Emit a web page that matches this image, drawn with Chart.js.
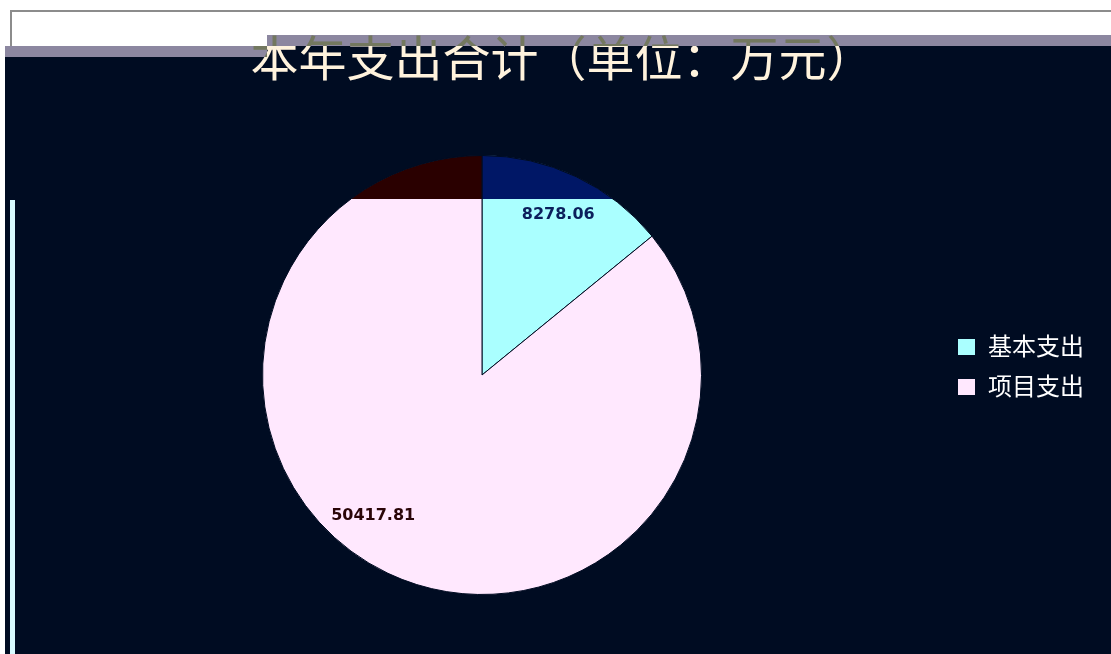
<!DOCTYPE html>
<html>
<head>
<meta charset="utf-8">
<script src="https://cdn.jsdelivr.net/npm/chart.js@4/dist/chart.umd.min.js"></script>
<style>
    html, body { margin: 0; padding: 0; background: #ffffff; width: 1111px; height: 654px; overflow: hidden; }
    .abs { position: absolute; }
    .frame { left: 10px; top: 10px; width: 1101px; height: 47px; border-top: 2px solid #8c8c8c; border-left: 2px solid #8c8c8c; box-sizing: border-box; }
    .band-l { left: 5px; top: 46px; width: 262px; height: 11px; background: #8c87a0; }
    .band-r { left: 267px; top: 35px; width: 844px; height: 11px; background: #8c87a0; }
    .dark-l { left: 5px; top: 57px; width: 262px; height: 597px; background: #000c22; }
    .dark-r { left: 267px; top: 46px; width: 844px; height: 608px; background: #000c22; }
    .bar { left: 10px; top: 200px; width: 5px; height: 454px; background: #d8fbff; }
    #chart { left: 0; top: 0; }
    .title { left: 0; top: 31px; width: 1111px; text-align: center; color: #ffffff; font: 48px/48px "Noto Sans CJK SC"; mix-blend-mode: difference; white-space: nowrap; padding-left: 14px; box-sizing: border-box; }
    .legend { left: 958px; top: 333px; color: #ffffff; font: 24px/24px "Noto Sans CJK SC"; }
    .legend div { height: 24px; margin-bottom: 16px; white-space: nowrap; }
    .legend span.box { display: inline-block; width: 17px; height: 16px; margin-right: 13px; vertical-align: 0px; }
</style>
</head>
<body>
<div class="abs frame"></div>
<div class="abs band-l"></div>
<div class="abs band-r"></div>
<div class="abs dark-l"></div>
<div class="abs dark-r"></div>
<canvas id="chart" class="abs" width="1111" height="654"></canvas>
<div class="abs bar"></div>
<div class="abs title" id="title"></div>
<div class="abs legend" id="legend"></div>

<script>
    // chart data
    var chartTitle = '本年支出合计（单位：万元）';
    var categories = ['基本支出', '项目支出'];
    var amounts = [8278.06, 50417.81];
    var valueLabels = ['8278.06', '50417.81'];
    var sliceColors = ['#aaffff', '#ffe8fe'];
    var capColors = ['#001766', '#2a0000'];
    var labelColors = ['#0b1f5c', '#2a0508'];
    var labelAnglePos = [0.5, 0.54];

    document.getElementById('title').textContent = chartTitle;

    // html legend
    var legendHtml = '';
    for (var i = 0; i < categories.length; i++) {
        legendHtml += '<div><span class="box" style="background:' + sliceColors[i] + '"></span>' + categories[i] + '</div>';
    }
    document.getElementById('legend').innerHTML = legendHtml;

    // top cap of the pie is drawn darker, like in the picture
    var capPlugin = {
        id: 'capBand',
        afterDatasetsDraw: function (chart) {
            var ctx = chart.ctx;
            var meta = chart.getDatasetMeta(0);
            ctx.save();
            ctx.beginPath();
            ctx.rect(0, 0, chart.width, 199);
            ctx.clip();
            meta.data.forEach(function (arc, i) {
                var old = arc.options.backgroundColor;
                arc.options.backgroundColor = capColors[i];
                arc.draw(ctx);
                arc.options.backgroundColor = old;
            });
            ctx.restore();
        }
    };

    // value text inside each slice
    var valueLabelPlugin = {
        id: 'valueLabels',
        afterDatasetsDraw: function (chart) {
            var ctx = chart.ctx;
            var meta = chart.getDatasetMeta(0);
            ctx.save();
            ctx.font = 'bold 16px "DejaVu Sans", sans-serif';
            ctx.textAlign = 'center';
            ctx.textBaseline = 'middle';
            meta.data.forEach(function (arc, i) {
                var ang = arc.startAngle + (arc.endAngle - arc.startAngle) * labelAnglePos[i];
                var r = arc.outerRadius * 0.81;
                var x = arc.x + Math.cos(ang) * r;
                var y = arc.y + Math.sin(ang) * r;
                ctx.fillStyle = labelColors[i];
                ctx.fillText(valueLabels[i], x, y);
            });
            ctx.restore();
        }
    };

    var ctx = document.getElementById('chart');
    var myChart = new Chart(ctx, {
        type: 'pie',
        data: {
            labels: categories,
            datasets: [{
                data: amounts,
                backgroundColor: sliceColors,
                borderColor: '#000c22',
                borderWidth: 1
            }]
        },
        options: {
            responsive: false,
            animation: false,
            layout: {
                padding: { top: 155, bottom: 59, left: 0, right: 147 }
            },
            plugins: {
                title: { display: false },
                legend: { display: false },
                tooltip: { enabled: false }
            }
        },
        plugins: [capPlugin, valueLabelPlugin]
    });
</script>
</body>
</html>
